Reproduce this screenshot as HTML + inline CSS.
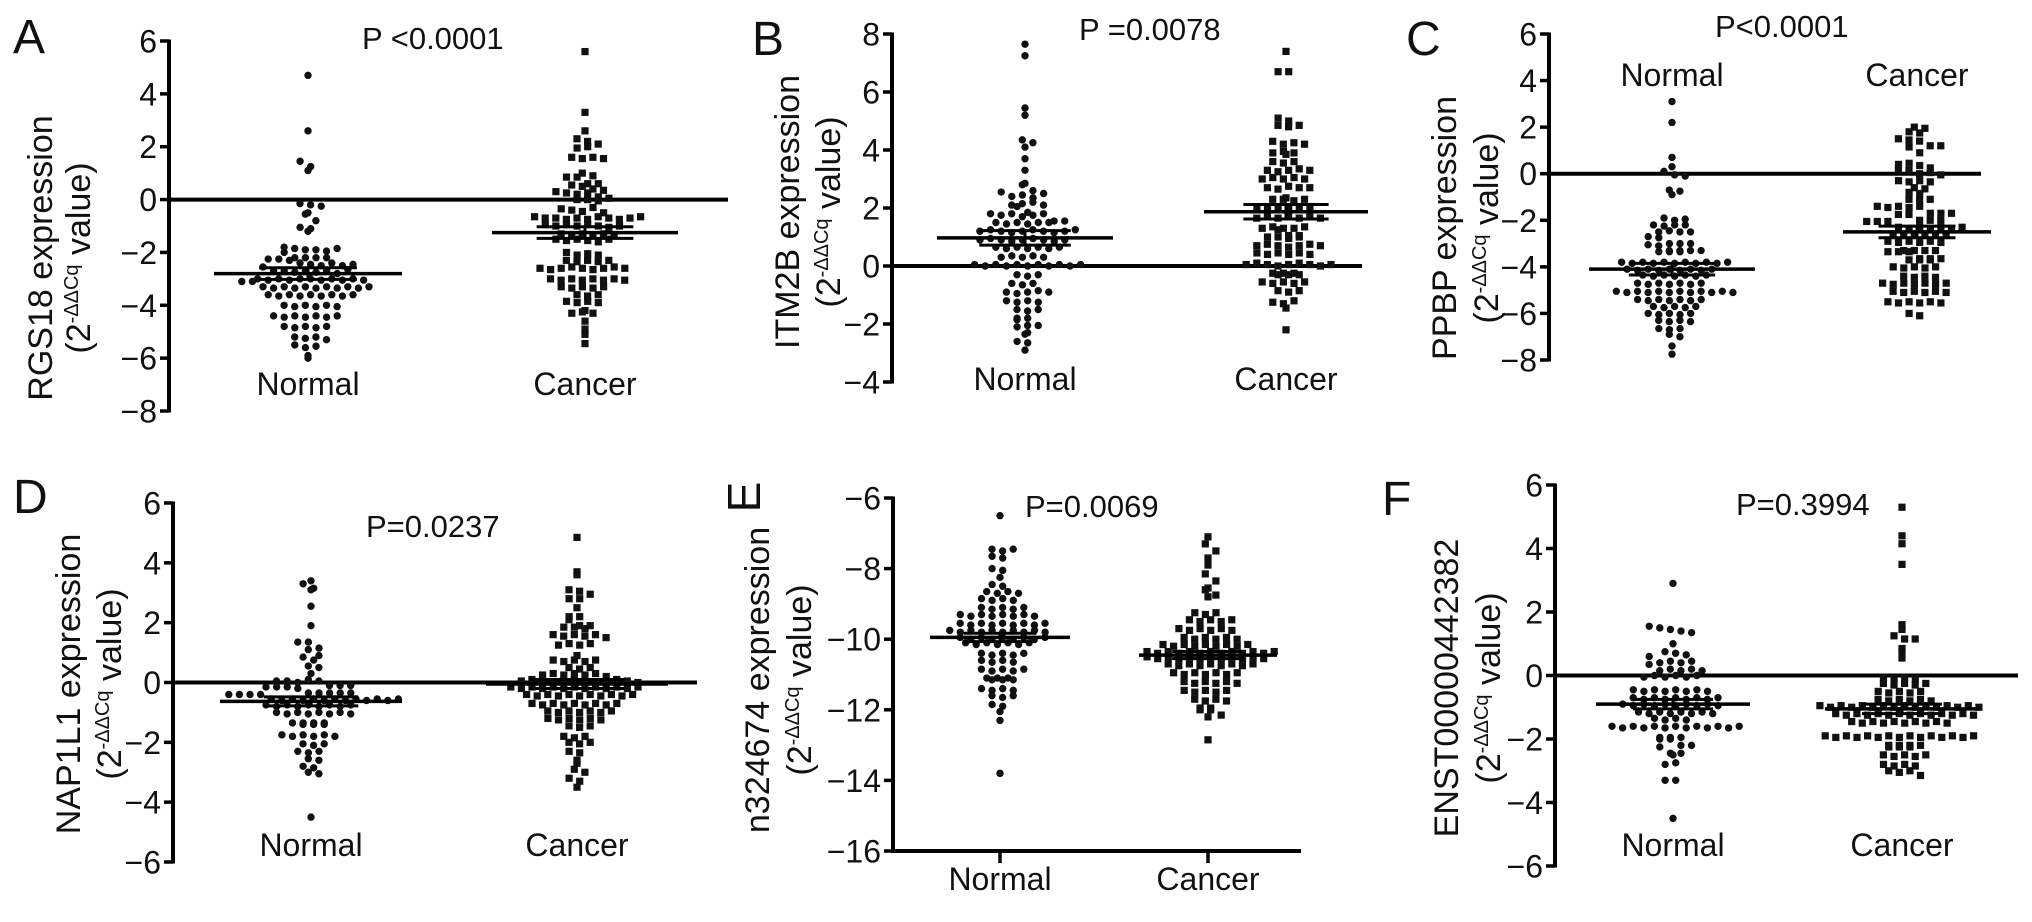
<!DOCTYPE html>
<html><head><meta charset="utf-8"><title>Expression scatter plots</title>
<style>
html,body{margin:0;padding:0;background:#fff;}
svg{display:block;font-family:"Liberation Sans",Arial,sans-serif;}
</style></head>
<body>
<svg id="fig" width="2032" height="922" viewBox="0 0 2032 922" xmlns="http://www.w3.org/2000/svg"></svg>
<script>
// ---------- data ----------
const groupLabels = ["Normal", "Cancer"];
const aTicks = [6,4,2,0,-2,-4,-6,-8];
const bTicks = [8,6,4,2,0,-2,-4];
const cTicks = [6,4,2,0,-2,-4,-6,-8];
const dTicks = [6,4,2,0,-2,-4,-6];
const eTicks = [-6,-8,-10,-12,-14,-16];
const fTicks = [6,4,2,0,-2,-4,-6];

const aNormal = [4.7,2.6,1.45,1.25,1.1,-0.15,-0.2,-0.25,-0.5,-0.55,-0.8,-1.05,-1.1,-1.2,
-1.8,-1.85,-1.9,-1.9,-1.95,-2.0,-1.85,-2.2,-2.2,-2.25,-2.2,-2.25,-2.2,-2.3,
-2.4,-2.45,-2.5,-2.4,-2.5,-2.45,-2.55,-2.7,-2.7,-2.75,-2.7,-2.75,-2.7,-2.8,-2.65,
-3.0,-3.05,-3.0,-3.05,-3.0,-3.1,-3.0,-3.05,-3.0,-3.1,-3.05,-3.0,-3.05,
-3.3,-3.35,-3.3,-3.35,-3.3,-3.35,-3.3,-3.35,-3.3,-3.35,-3.3,
-3.6,-3.65,-3.6,-3.65,-3.6,-3.65,-3.6,-3.65,-3.6,
-4.0,-4.05,-4.0,-4.05,-4.0,-4.05,-4.4,-4.45,-4.4,-4.45,-4.4,-4.45,-4.4,
-4.8,-4.85,-4.8,-4.85,-4.8,-5.2,-5.25,-5.2,-5.3,-5.5,-5.6,-5.55,-5.9,-6.0];
const aCancer = [5.6,3.3,2.6,2.3,2.2,2.1,1.95,2.0,1.6,1.55,1.6,1.55,1.0,0.85,0.9,0.85,
0.6,0.55,0.6,0.5,0.4,0.3,0.25,0.2,0.25,0.35,0.1,0,0,-0.05,0.05,
-0.35,-0.4,-0.45,-0.3,-0.5,-0.65,-0.7,-0.7,-0.75,-0.7,-0.75,-0.65,-0.7,-0.75,-0.7,-0.65,
-0.95,-1.0,-0.95,-1.0,-0.95,-1.0,-1.05,-1.0,-1.3,-1.35,-1.3,-1.35,-1.3,-1.35,
-1.5,-1.55,-1.5,-1.55,-1.6,-1.5,-2.0,-2.1,-2.05,-2.1,-2.3,-2.35,-2.3,-2.35,-2.3,
-2.6,-2.65,-2.6,-2.55,-2.6,-2.65,-2.6,-2.55,-2.6,-3.0,-3.05,-3.0,-3.05,-3.0,-3.05,-3.0,-3.05,
-3.3,-3.35,-3.3,-3.35,-3.3,-3.6,-3.65,-3.6,-3.85,-3.9,-3.85,-3.9,-4.2,-4.3,-4.25,-4.3,
-4.6,-4.9,-5.1,-5.45];
const bNormal = [7.65,7.25,5.45,5.2,4.35,4.25,4.1,3.7,3.3,2.85,2.8,2.6,2.55,2.4,2.45,2.35,2.5,
2.1,2.15,2.05,2.2,2.1,1.8,1.75,1.85,1.8,1.7,1.75,1.8,1.5,1.45,1.55,1.5,1.45,1.5,1.55,1.5,
1.2,1.25,1.2,1.15,1.2,1.25,1.2,1.15,1.2,1.25,0.9,0.95,0.9,0.85,0.9,0.95,0.9,0.85,0.9,
0.65,0.6,0.65,0.6,0.65,0.6,0.65,0.3,0.35,0.3,0.35,0.3,0.05,0,0.05,0,0.05,0,0.05,0,0.05,0,0.05,
-0.3,-0.35,-0.3,-0.6,-0.65,-0.6,-0.9,-0.95,-0.9,-0.85,-0.9,-1.2,-1.25,-1.2,-1.25,
-1.5,-1.55,-1.5,-1.8,-1.85,-1.8,-2.05,-2.1,-2.05,-2.35,-2.3,-2.6,-2.65,-2.9];
const bCancer = [7.4,6.7,6.7,5.1,5.0,4.85,4.8,4.85,4.3,4.2,4.25,4.2,3.9,3.95,3.9,3.85,
3.6,3.55,3.6,3.3,3.25,3.3,3.35,3.3,3.0,3.05,3.0,3.05,3.0,2.7,2.65,2.75,2.7,2.7,
2.3,2.35,2.3,2.25,2.3,2.0,2.05,2.0,1.95,2.0,2.05,1.65,1.7,1.65,1.7,1.65,1.7,1.65,
1.3,1.35,1.3,1.25,1.3,1.35,1.0,1.05,1.0,0.95,1.0,1.05,0.7,0.75,0.7,0.65,0.7,0.75,0.7,
0.45,0.4,0.45,0.4,0.45,0.4,0.05,0.1,0.05,0,0.05,0.1,0.05,0,0.05,
-0.25,-0.3,-0.25,-0.3,-0.25,-0.3,-0.55,-0.6,-0.55,-0.6,-0.55,-0.85,-0.9,-0.85,
-1.25,-1.3,-1.2,-1.45,-2.2];
const cNormal = [3.1,2.2,0.7,0.3,0.1,-0.05,-0.1,-0.7,-0.75,-0.9,-1.9,-2.0,-1.95,
-2.2,-2.25,-2.2,-2.2,-2.5,-2.45,-2.5,-2.5,-2.7,-2.75,-3.0,-3.05,-3.0,-3.1,-3.0,
-3.3,-3.35,-3.3,-3.35,-3.3,-3.35,-3.3,-3.8,-3.85,-3.8,-3.85,-3.8,-3.85,-3.8,-3.85,-3.8,-3.85,-3.8,
-4.1,-4.15,-4.1,-4.15,-4.1,-4.15,-4.1,-4.15,-4.1,-4.35,-4.4,-4.35,-4.4,-4.35,-4.4,-4.35,
-4.7,-4.75,-4.7,-4.75,-4.7,-4.75,-4.7,-5.05,-5.1,-5.05,-5.1,-5.05,-5.1,-5.05,-5.1,-5.05,-5.1,-5.05,-5.1,
-5.4,-5.45,-5.4,-5.45,-5.4,-5.45,-5.4,-5.7,-5.75,-5.7,-5.75,-5.7,-6.0,-6.05,-6.0,-6.05,-6.0,
-6.3,-6.35,-6.3,-6.35,-6.65,-6.7,-6.65,-6.9,-7.0,-7.4,-7.75];
const cCancer = [2.0,1.95,1.8,1.75,1.5,1.45,1.4,1.2,1.15,1.2,0.9,0.4,0.45,0.35,0.2,0.15,0.25,
0,0.05,-0.05,-0.3,-0.35,-0.3,-0.35,-0.6,-0.65,-0.8,-0.85,-1.1,-1.15,-1.1,
-1.4,-1.45,-1.4,-1.45,-1.4,-1.7,-1.75,-1.7,-1.75,-1.7,-2.0,-2.05,-2.0,-2.05,-2.0,-2.05,
-2.3,-2.35,-2.3,-2.35,-2.3,-2.35,-2.3,-2.6,-2.65,-2.6,-2.65,-2.6,-2.65,
-2.9,-2.95,-2.9,-2.95,-2.9,-2.95,-3.3,-3.35,-3.3,-3.35,-3.3,-3.35,-3.3,
-3.65,-3.7,-3.65,-3.7,-3.65,-3.7,-4.0,-4.05,-4.0,-4.05,-4.0,-4.4,-4.45,-4.4,-4.45,
-4.7,-4.75,-4.7,-4.75,-4.7,-4.75,-4.7,-5.05,-5.1,-5.05,-5.1,-5.05,-5.1,
-5.5,-5.55,-5.5,-5.55,-5.5,-5.55,-6.0,-6.1];
const dNormal = [3.4,3.3,3.15,3.1,2.55,1.9,1.35,1.35,1.15,1.1,0.85,0.9,0.75,0.55,0.5,0.3,
0.05,0.05,0,0.1,0.05,-0.1,-0.15,-0.1,-0.15,-0.1,-0.15,-0.2,-0.35,-0.4,-0.35,-0.4,-0.35,-0.4,-0.35,-0.4,-0.35,
-0.55,-0.6,-0.55,-0.6,-0.55,-0.6,-0.55,-0.6,-0.55,-0.6,-0.55,-0.6,-0.55,-0.75,-0.8,-0.75,-0.8,-0.75,-0.8,-0.75,-0.8,-0.75,
-1.0,-1.05,-1.0,-1.05,-1.0,-1.05,-1.0,-1.05,-1.35,-1.4,-1.35,-1.4,-1.35,-1.4,-1.35,
-1.75,-1.8,-1.75,-1.8,-1.75,-1.8,-2.05,-2.1,-2.05,-2.3,-2.35,-2.3,-2.55,-2.6,-2.8,-2.85,-3.0,-3.05,-4.5];
const dCancer = [4.85,3.6,3.7,3.1,3.05,2.95,2.8,2.8,2.5,2.2,2.1,2.2,1.9,1.85,1.9,1.85,1.8,
1.6,1.55,1.6,1.55,1.6,1.5,1.25,1.3,1.25,1.3,0.9,0.75,0.7,0.75,0.7,0.75,0.5,0.45,0.5,
0.25,0.3,0.25,0.3,0.25,0.3,0.2,0.05,0.1,0.05,0,0.05,0.1,0.05,0,0.05,0.1,0.05,0,
-0.15,-0.2,-0.15,-0.2,-0.15,-0.2,-0.15,-0.2,-0.15,-0.2,-0.15,-0.2,-0.15,
-0.4,-0.45,-0.4,-0.45,-0.4,-0.45,-0.4,-0.45,-0.4,-0.45,-0.4,-0.7,-0.75,-0.7,-0.75,-0.7,-0.75,-0.7,-0.75,-0.7,
-0.95,-1.0,-0.95,-1.0,-0.95,-1.0,-0.95,-1.2,-1.25,-1.2,-1.25,-1.2,-1.25,-1.45,-1.5,-1.45,
-1.8,-1.85,-1.8,-2.0,-2.05,-2.0,-2.3,-2.35,-2.6,-2.7,-2.9,-3.0,-3.2,-3.3,-3.5];
const eNormal = [-6.5,-7.45,-7.5,-7.45,-7.65,-7.7,-8.0,-8.05,-8.25,-8.45,-8.5,-8.65,-8.7,-8.65,-8.7,
-8.85,-8.9,-8.85,-8.9,-9.1,-9.15,-9.1,-9.15,-9.1,-9.3,-9.35,-9.3,-9.35,-9.3,-9.35,-9.3,-9.35,
-9.55,-9.6,-9.55,-9.6,-9.55,-9.6,-9.55,-9.6,-9.55,-9.75,-9.8,-9.75,-9.8,-9.75,-9.8,-9.75,-9.8,-9.75,-9.8,
-9.95,-10.0,-9.95,-10.0,-9.95,-10.0,-9.95,-10.0,-9.95,-10.1,-10.15,-10.1,-10.15,-10.1,-10.15,-10.1,
-10.4,-10.45,-10.4,-10.45,-10.4,-10.6,-10.65,-10.6,-10.65,-10.85,-10.9,-10.85,-10.9,-10.85,
-11.1,-11.15,-11.1,-11.15,-11.1,-11.15,-11.4,-11.45,-11.4,-11.45,-11.6,-11.65,-11.6,-11.85,-11.9,-12.05,-12.3,-13.8];
const eCancer = [-7.1,-7.3,-7.5,-7.7,-7.9,-8.15,-8.35,-8.55,-8.6,-8.8,-8.75,-9.25,-9.3,-9.25,
-9.45,-9.5,-9.45,-9.5,-9.45,-9.7,-9.75,-9.7,-9.75,-9.7,-9.75,-9.95,-10.0,-9.95,-10.0,-9.95,-10.0,
-10.15,-10.2,-10.15,-10.2,-10.15,-10.2,-10.15,-10.2,-10.15,-10.35,-10.4,-10.35,-10.4,-10.35,-10.4,-10.35,-10.4,-10.35,-10.4,-10.35,-10.4,-10.35,
-10.5,-10.55,-10.5,-10.55,-10.5,-10.55,-10.5,-10.55,-10.5,-10.55,-10.5,-10.55,
-10.7,-10.75,-10.7,-10.75,-10.7,-10.75,-10.7,-10.75,-10.7,-10.95,-11.0,-10.95,-11.0,-10.95,-11.0,-10.95,
-11.2,-11.25,-11.2,-11.25,-11.2,-11.25,-11.45,-11.5,-11.45,-11.5,-11.45,-11.7,-11.75,-11.7,-11.75,
-11.95,-12.0,-11.95,-12.0,-12.15,-12.2,-12.85];
const fNormal = [2.9,1.55,1.5,1.45,1.4,1.35,1.0,0.75,0.7,0.65,0.6,0.4,0.45,0.35,0.4,0.45,0.15,0.2,0.15,0.2,0.15,
-0.05,0,-0.05,0,-0.05,0,-0.45,-0.5,-0.45,-0.5,-0.45,-0.5,-0.45,-0.5,-0.7,-0.75,-0.7,-0.75,-0.7,-0.75,-0.7,-0.75,-0.7,
-0.9,-0.95,-0.9,-0.95,-0.9,-0.95,-0.9,-0.95,-0.9,-0.95,-1.15,-1.2,-1.15,-1.2,-1.15,-1.2,-1.15,-1.2,-1.35,-1.4,-1.35,-1.4,
-1.6,-1.65,-1.6,-1.65,-1.6,-1.65,-1.6,-1.65,-1.6,-1.65,-1.6,-1.65,-1.6,-1.95,-2.0,-1.95,-2.0,-1.95,
-2.2,-2.25,-2.2,-2.45,-2.5,-2.45,-2.8,-2.75,-3.3,-3.3,-4.5];
const fCancer = [5.3,4.4,4.15,3.5,1.6,1.45,1.25,1.15,1.15,0.85,0.75,0.55,-0.05,-0.1,-0.05,-0.1,
-0.25,-0.3,-0.25,-0.3,-0.25,-0.5,-0.55,-0.5,-0.55,-0.5,-0.75,-0.8,-0.75,-0.8,-0.75,-0.8,
-0.95,-1.0,-0.95,-1.0,-0.95,-1.0,-0.95,-1.0,-0.95,-1.0,-0.95,-1.0,-0.95,-1.0,-0.95,-1.0,
-1.2,-1.25,-1.2,-1.25,-1.2,-1.25,-1.2,-1.25,-1.2,-1.25,-1.2,-1.25,-1.2,-1.25,
-1.45,-1.5,-1.45,-1.5,-1.45,-1.5,-1.45,-1.5,-1.45,-1.5,
-1.9,-1.95,-1.9,-1.95,-1.9,-1.95,-1.9,-1.95,-1.9,-1.95,-1.9,-1.95,-1.9,-1.95,-1.9,
-2.2,-2.25,-2.2,-2.25,-2.2,-2.25,-2.2,-2.5,-2.55,-2.5,-2.55,-2.5,-2.8,-2.85,-2.8,-2.85,-3.0,-3.05,-3.0,-3.15];

const aMeans = [-2.8,-1.25];  const aSem = [0.22,0.22];
const bMeans = [0.97,1.87];   const bSem = [0.25,0.25];
const cMeans = [-4.1,-2.5];   const cSem = [0.25,0.25];
const dMeans = [-0.63,-0.05]; const dSem = [0.15,0.15];
const eMeans = [-9.95,-10.45];const eSem = [0.12,0.1];
const fMeans = [-0.9,-1.05];  const fSem = [0.15,0.15];

const pLabels = ["P <0.0001","P =0.0078","P<0.0001","P=0.0237","P=0.0069","P=0.3994"];
const yTitles = ["RGS18 expression","ITM2B expression","PPBP expression","NAP1L1 expression","n324674 expression","ENST00000442382"];
const panelLetters = ["A","B","C","D","E","F"];

// ---------- layout ----------
const panels = [
 {id:"a",axisX:169,yTop:41,yBot:411,vTop:6,vBot:-8,ticks:aTicks,data:[aNormal,aCancer],means:aMeans,sem:aSem,cx:[308,585],half:[94,93],zeroEnd:728,
  p:[362,49],letter:[13,53],lab:395,t1:52,t2:90,tc:258},
 {id:"b",axisX:892,yTop:34,yBot:382,vTop:8,vBot:-4,ticks:bTicks,data:[bNormal,bCancer],means:bMeans,sem:bSem,cx:[1025,1286],half:[88,82],zeroEnd:1362,
  p:[1079,40],letter:[752,55],lab:390,t1:799,t2:840,tc:212},
 {id:"c",axisX:1549,yTop:34,yBot:360,vTop:6,vBot:-8,ticks:cTicks,data:[cNormal,cCancer],means:cMeans,sem:cSem,cx:[1672,1917],half:[83,74],zeroEnd:1981,
  p:[1715,37],letter:[1406,55],lab:86,t1:1456,t2:1498,tc:228},
 {id:"d",axisX:173,yTop:503,yBot:862,vTop:6,vBot:-6,ticks:dTicks,data:[dNormal,dCancer],means:dMeans,sem:dSem,cx:[311,577],half:[91,91],zeroEnd:697,
  p:[366,537],letter:[13,513],lab:856,t1:80,t2:121,tc:684},
 {id:"e",axisX:893,yTop:498,yBot:851,vTop:-6,vBot:-16,ticks:eTicks,data:[eNormal,eCancer],means:eMeans,sem:eSem,cx:[1000,1208],half:[70,69],zeroEnd:null,
  p:[1025,517],letter:[760,497],lab:890,t1:769,t2:811,tc:680},
 {id:"f",axisX:1555,yTop:485,yBot:866,vTop:6,vBot:-6,ticks:fTicks,data:[fNormal,fCancer],means:fMeans,sem:fSem,cx:[1673,1902],half:[77,77],zeroEnd:2018,
  p:[1736,515],letter:[1382,515],lab:856,t1:1458,t2:1500,tc:688}
];

const NS = "http://www.w3.org/2000/svg";
const svg = document.getElementById("fig");
function mk(tag, attrs, parent){
  const e = document.createElementNS(NS, tag);
  for (const k in attrs) e.setAttribute(k, attrs[k]);
  (parent||svg).appendChild(e);
  return e;
}

panels.forEach((P, pi) => {
  const g = mk("g", {});
  
  
  const y = v => P.yTop + (P.vTop - v) / (P.vTop - P.vBot) * (P.yBot - P.yTop);

  const ax = mk("line", {x1:P.axisX, x2:P.axisX, y1:P.yTop-1.5, y2:P.yBot+1.5, stroke:"#000", "stroke-width":4}, g);
  
  
  P.ticks.forEach(t => {
    const ty = y(t);
    const tk = mk("line", {x1:P.axisX-9, x2:P.axisX, y1:ty, y2:ty, stroke:"#000", "stroke-width":3.5}, g);
    
    
    const tl = mk("text", {x:P.axisX-12, y:ty+11.5, "font-size":32, "text-anchor":"end", fill:"#111"}, g);
    tl.textContent = (t < 0 ? "\u2212" + Math.abs(t) : String(t));
    
    
  });

  if (P.zeroEnd !== null) {
    const z = mk("line", {x1:P.axisX, x2:P.zeroEnd, y1:y(0), y2:y(0), stroke:"#000", "stroke-width":4}, g);
    
    
  } else {
    const xa = mk("line", {x1:P.axisX-2, x2:1301, y1:P.yBot, y2:P.yBot, stroke:"#000", "stroke-width":4}, g);
    
    
    P.cx.forEach(c => {
      const xt = mk("line", {x1:c, x2:c, y1:P.yBot, y2:P.yBot+12, stroke:"#000", "stroke-width":3.5}, g);
      
      
    });
  }

  // dots (beeswarm)
  P.data.forEach((vals, gi) => {
    const rows = {};
    vals.forEach(v => {
      const py = y(v);
      const key = Math.round(py / 7.5);
      (rows[key] = rows[key] || []).push(py);
    });
    Object.keys(rows).forEach(k => {
      const r = rows[k];
      const n = r.length;
      const stagger = (Number(k) % 2) ? 2.6 : -2.6;
      r.forEach((py, i) => {
        const px = P.cx[gi] + (i - (n - 1) / 2) * 10.6 + (n > 1 ? stagger : 0);
        let d;
        if (gi === 0) {
          d = mk("circle", {cx:px, cy:py, r:3.7, fill:"#111"}, g);
          
        } else {
          d = mk("rect", {x:px-3.6, y:py-3.6, width:7.2, height:7.2, fill:"#111"}, g);
          
        }
        
      });
    });
  });

  P.means.forEach((m, gi) => {
    const c = P.cx[gi], h = P.half[gi];
    const ml = mk("line", {x1:c-h, x2:c+h, y1:y(m), y2:y(m), stroke:"#000", "stroke-width":3.5}, g);
    
    
    [m + P.sem[gi], m - P.sem[gi]].forEach(sv => {
      const sl = mk("line", {x1:c-h*0.52, x2:c+h*0.52, y1:y(sv), y2:y(sv), stroke:"#000", "stroke-width":3}, g);
      
      
    });
    const vl = mk("line", {x1:c, x2:c, y1:y(m + P.sem[gi]), y2:y(m - P.sem[gi]), stroke:"#000", "stroke-width":3}, g);
    
    
  });

  groupLabels.forEach((lbl, gi) => {
    const t = mk("text", {x:P.cx[gi], y:P.lab, "font-size":32, "text-anchor":"middle", fill:"#111"}, g);
    t.textContent = lbl;
    
    
  });

  const pt = mk("text", {x:P.p[0], y:P.p[1], "font-size":31, fill:"#111"}, g);
  pt.textContent = pLabels[pi];
  
  

  let lt;
  if (P.id === "e") {
    lt = mk("text", {x:0, y:0, "font-size":46, fill:"#111", "text-anchor":"middle", transform:"translate(" + P.letter[0] + "," + P.letter[1] + ") rotate(-90)"}, g);
  } else {
    lt = mk("text", {x:P.letter[0], y:P.letter[1], "font-size":48, fill:"#111"}, g);
  }
  lt.textContent = panelLetters[pi];
  
  

  const t1 = mk("text", {x:0, y:0, "font-size":34, "text-anchor":"middle", fill:"#111", transform:"translate(" + P.t1 + "," + P.tc + ") rotate(-90)"}, g);
  t1.textContent = yTitles[pi];
  
  
  const t2 = mk("text", {x:0, y:0, "font-size":34, "text-anchor":"middle", fill:"#111", transform:"translate(" + P.t2 + "," + P.tc + ") rotate(-90)"}, g);
  
  
  const s1 = mk("tspan", {}, t2); s1.textContent = "(2";
  const s2 = mk("tspan", {"font-size":20, dy:-12}, t2); s2.textContent = "-\u0394\u0394Cq";
  const s3 = mk("tspan", {dy:12}, t2); s3.textContent = " value)";
});
</script>
</body></html>
